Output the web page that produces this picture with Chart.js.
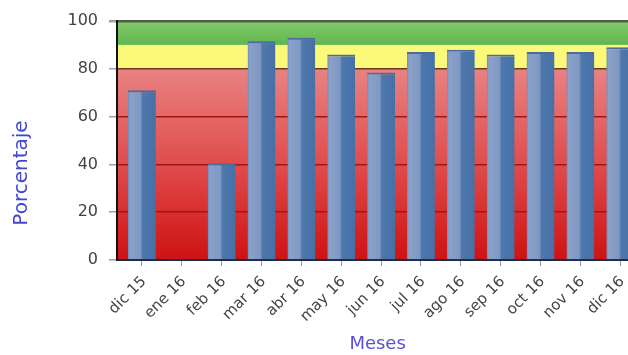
<!DOCTYPE html>
<html>
<head>
<meta charset="utf-8">
<script src="https://cdn.jsdelivr.net/npm/chart.js@4/dist/chart.umd.min.js"></script>
<style>
  html, body { margin: 0; padding: 0; background: #ffffff; overflow: hidden; }
  #wrap { width: 640px; height: 355px; }
</style>
</head>
<body>
<div id="wrap"><canvas id="c" width="640" height="355"></canvas></div>
<script>
// Monthly compliance percentage
const months = ['dic 15', 'ene 16', 'feb 16', 'mar 16', 'abr 16', 'may 16', 'jun 16',
                'jul 16', 'ago 16', 'sep 16', 'oct 16', 'nov 16', 'dic 16'];
const percentages = [71, 0.5, 40.5, 91.5, 93, 86, 78.5, 87, 88, 86, 87, 87, 89];
const yTicks = [0, 20, 40, 60, 80, 100];
// Target bands: red below 80, yellow 80-90, green 90-100
const bandLimits = [0, 80, 90, 100];

const FONT = 'DejaVu Sans';

// Coloured target bands behind the bars
const bandsPlugin = {
  id: 'bands',
  beforeDraw(chart) {
    const { ctx, chartArea: a, scales: { y } } = chart;
    const y0 = y.getPixelForValue(bandLimits[0]);
    const y1 = y.getPixelForValue(bandLimits[1]);
    const y2 = y.getPixelForValue(bandLimits[2]);
    const y3 = y.getPixelForValue(bandLimits[3]);
    ctx.save();
    let g = ctx.createLinearGradient(0, y1, 0, y0);
    g.addColorStop(0, '#e98282');
    g.addColorStop(0.5, '#e04c4c');
    g.addColorStop(1, '#cf1212');
    ctx.fillStyle = g;
    ctx.fillRect(a.left, y1, a.right - a.left, y0 - y1);
    ctx.fillStyle = '#fbf87a';
    ctx.fillRect(a.left, y2, a.right - a.left, y1 - y2);
    g = ctx.createLinearGradient(0, y3, 0, y2);
    g.addColorStop(0, '#84c96e');
    g.addColorStop(1, '#5fb64c');
    ctx.fillStyle = g;
    ctx.fillRect(a.left, y3, a.right - a.left, y2 - y3);
    ctx.restore();
  },
  afterDraw(chart) {
    // vertical axis title
    const { ctx, chartArea: a } = chart;
    ctx.save();
    ctx.translate(22, a.bottom - 87);
    ctx.rotate(-Math.PI / 2);
    ctx.font = '20px "' + FONT + '"';
    ctx.fillStyle = '#4048d0';
    ctx.textAlign = 'center';
    ctx.textBaseline = 'middle';
    ctx.fillText('Porcentaje', 0, 0);
    ctx.restore();
  }
};

function barFill(context) {
  const chart = context.chart;
  const xs = chart.scales.x;
  if (!chart.chartArea || !xs) return '#5a7fb0';
  const cx = xs.getPixelForValue(context.dataIndex);
  const half = 14;
  const g = chart.ctx.createLinearGradient(cx - half, 0, cx + half, 0);
  g.addColorStop(0, '#6e8bba');
  g.addColorStop(0.08, '#8aa2c9');
  g.addColorStop(0.46, '#7f98c3');
  g.addColorStop(0.52, '#4f78ad');
  g.addColorStop(1, '#4670a6');
  return g;
}

new Chart(document.getElementById('c'), {
  type: 'bar',
  data: {
    datasets: [{
      label: 'Porcentaje',
      data: percentages.map((v, i) => ({ x: i, y: v })),
      backgroundColor: barFill,
      borderColor: '#4a6d9e',
      borderWidth: { top: 2, left: 0, right: 0, bottom: 0 },
      borderSkipped: 'bottom',
      barPercentage: 0.7,
      categoryPercentage: 1
    }]
  },
  options: {
    responsive: false,
    animation: false,
    layout: { padding: { left: 0, right: 0, top: 21, bottom: 0 } },
    plugins: { legend: { display: false }, tooltip: { enabled: false } },
    scales: {
      x: {
        type: 'linear',
        offset: false,
        min: -0.625,
        max: 12.45,
        afterFit(scale) { scale.height = 95; },
        afterBuildTicks(scale) {
          scale.ticks = months.map((m, i) => ({ value: i }));
        },
        ticks: {
          stepSize: 1,
          includeBounds: false,
          autoSkip: false,
          maxRotation: 45,
          minRotation: 45,
          padding: 7,
          labelOffset: 2,
          color: '#444444',
          font: { family: FONT, size: 15 },
          callback: (v) => months[v] !== undefined ? months[v] : ''
        },
        grid: {
          offset: false,
          drawOnChartArea: false,
          drawTicks: true,
          tickLength: 6,
          tickColor: '#9a9a9a'
        },
        border: { display: true, color: '#1c2a48', width: 2 },
        title: {
          display: true,
          text: 'Meses',
          color: '#5a50d6',
          font: { family: FONT, size: 18, lineHeight: 1.2 },
          padding: { top: 0, bottom: 0 }
        }
      },
      y: {
        min: 0,
        max: 100,
        afterFit(scale) { scale.width = 117; },
        afterBuildTicks(scale) {
          scale.ticks = yTicks.map(v => ({ value: v }));
        },
        ticks: {
          padding: 11,
          color: '#444444',
          font: { family: FONT, size: 16 }
        },
        grid: {
          drawTicks: true,
          tickLength: 8,
          tickColor: '#a0a0a0',
          color: (c) => c.tick.value === 100 ? '#4e5e46' : (c.tick.value === 80 ? '#6e3a1c' : '#a31515'),
          lineWidth: (c) => c.tick.value === 100 ? 2.5 : 1.5
        },
        border: { display: true, color: '#111111', width: 2 }
      }
    }
  },
  plugins: [bandsPlugin]
});
</script>
</body>
</html>
